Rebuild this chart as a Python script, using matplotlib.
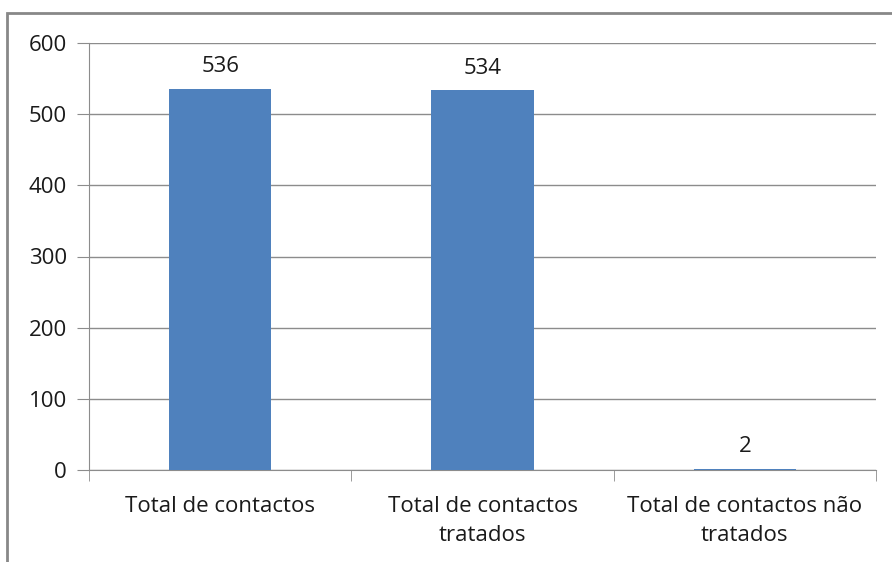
import matplotlib.pyplot as plt
from matplotlib.patches import Rectangle

categories = ["Total de contactos", "Total de contactos\ntratados", "Total de contactos não\ntratados"]
values = [536, 534, 2]
yticks = [0, 100, 200, 300, 400, 500, 600]

plt.rcParams['font.family'] = ['Open Sans', 'DejaVu Sans']

W, H = 892, 562
fig = plt.figure(figsize=(W / 100, H / 100), dpi=100)
ax = fig.add_axes([89 / W, 1 - 470 / H, (876 - 89) / W, (470 - 43) / H])

FS = 16
xs = list(range(len(categories)))
ax.bar(xs, values, width=0.39, color="#4F81BD", zorder=3)
for x, v in zip(xs, values):
    ax.text(x, v + 16, str(v), ha="center", va="bottom", fontsize=FS, color="#1a1a1a")

ax.set_xlim(-0.5, len(categories) - 0.5)
ax.set_ylim(0, 600)
ax.set_yticks(yticks)
ax.set_yticklabels([str(t) for t in yticks], fontsize=FS, color="#1a1a1a")
ax.yaxis.grid(True, color="#8c8c8c", linewidth=1, zorder=0)
ax.tick_params(axis="y", length=9, color="#8c8c8c", pad=7)

ax.set_xticks(xs)
ax.set_xticklabels(categories, fontsize=FS, color="#1a1a1a", linespacing=1.5)
ax.tick_params(axis="x", length=0, pad=19)
# category boundary ticks
ax.set_xticks([-0.5, 0.5, 1.5, 2.5], minor=True)
ax.tick_params(axis="x", which="minor", length=8, color="#8c8c8c")

for s in ["top", "right"]:
    ax.spines[s].set_visible(False)
for s in ["left", "bottom"]:
    ax.spines[s].set_color("#8c8c8c")

fig.patches.append(Rectangle((7 / W, -0.1), 1.1, 1 - 13 / H + 0.1, transform=fig.transFigure,
                             fill=False, edgecolor="#888888", linewidth=2))

fig.savefig("out.png", dpi=100)
